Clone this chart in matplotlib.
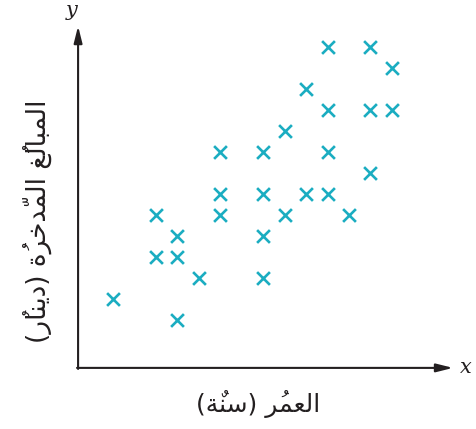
import matplotlib
matplotlib.use('Agg')
import matplotlib.pyplot as plt

# age index (years, relative) and saved amount (grid units)
age = [10, 12, 13, 9, 10, 12, 13, 8, 5, 7, 10, 12, 5, 7, 9, 10,
       2, 5, 8, 11, 3, 7, 2, 3, 4, 7, 0, 3]
savings = [13, 13, 12, 11, 10, 10, 10, 9, 8, 8, 8, 7, 6, 6, 6, 6,
           5, 5, 5, 5, 4, 4, 3, 3, 2, 2, 1, 0]

# arabic labels, pre-shaped (presentation forms) in visual left-to-right order
xlabel = '(\ufe94\u064c\ufee8\ufeb3) \ufeae\u064f\ufee4\ufecc\ufedf\ufe8d'
ylabel = ('(\ufead\u064c\ufe8e\ufee8\ufef3\ufea9) '
          '\ufe93\u064f\ufeae\ufea7\ufeaa\u0651\ufee4\ufedf\ufe8d '
          '\ufece\u064f\ufedf\ufe8e\ufe92\ufee4\ufedf\ufe8d')

cyan = '#1badc1'
dark = '#231f20'

fig = plt.figure(figsize=(4.76, 4.29), dpi=100)
ax = fig.add_axes([0, 0, 1, 1])
ax.set_xlim(-5.27, 16.92)
ax.set_ylim(-5.19, 15.24)
ax.axis('off')

ax.scatter(age, savings, marker='x', s=85, color=cyan, linewidths=1.9, zorder=3)

# axes with arrow heads
x0, y0 = -1.63, -2.28
arrow = dict(arrowstyle='-|>,head_length=1.0,head_width=0.25', color=dark,
             lw=1.5, shrinkA=0, shrinkB=0)
ax.annotate('', xy=(15.85, y0), xytext=(x0 - 0.05, y0), arrowprops=arrow)
ax.annotate('', xy=(x0, 14.0), xytext=(x0, y0 - 0.05), arrowprops=arrow)

ax.text(16.45, y0, 'x', fontsize=15, style='italic', family='DejaVu Serif',
        ha='center', va='center', color=dark)
ax.text(x0 - 0.3, 14.75, 'y', fontsize=15, style='italic', family='DejaVu Serif',
        ha='center', va='center', color=dark)

ax.text(6.75, -4.0, xlabel, fontsize=18, family='DejaVu Sans',
        ha='center', va='center', color=dark)
ax.text(-3.55, 4.7, ylabel, fontsize=19, family='DejaVu Sans', rotation=90,
        ha='center', va='center', color=dark)

fig.savefig('out.png', dpi=100)
